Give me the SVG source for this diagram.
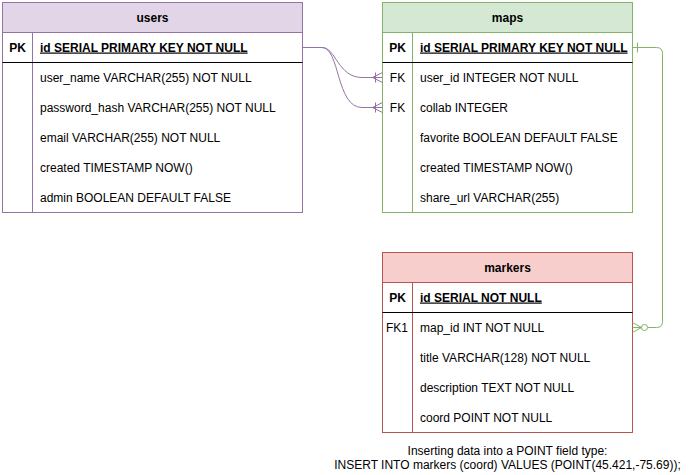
<svg xmlns="http://www.w3.org/2000/svg" width="690" height="475" viewBox="0 0 690 475">
  <style>
    text { font-family: "Liberation Sans", Arial, Helvetica, sans-serif; font-size: 12px; fill: #000; }
    .title { font-weight: bold; text-anchor: middle; }
    .key { font-weight: bold; text-anchor: middle; }
    .fk { text-anchor: middle; }
    .pkname { font-weight: bold; text-decoration: underline; }
    .sep { stroke: #000; stroke-width: 1; }
    .users { fill: #e1d5e7; stroke: #9673a6; }
    .maps { fill: #d5e8d4; stroke: #82b366; }
    .markers { fill: #f8cecc; stroke: #b85450; }
    .body { fill: #fff; }
    .wire { fill: none; stroke-width: 1; }
    .note { text-anchor: middle; }
  </style>

  <!-- users table -->
  <g id="users">
    <rect class="users" x="2.5" y="2.5" width="300" height="30"/>
    <rect class="users body" x="2.5" y="32.5" width="300" height="180"/>
    <line class="users" x1="32.5" y1="32.5" x2="32.5" y2="212.5"/>
    <line class="sep" x1="2.5" y1="62.5" x2="302.5" y2="62.5"/>
    <text class="title" x="152.5" y="21.5">users</text>
    <text class="key" x="17.5" y="51.5">PK</text>
    <text class="pkname" x="40" y="51.5">id SERIAL PRIMARY KEY NOT NULL</text>
    <text x="40" y="81.5">user_name VARCHAR(255) NOT NULL</text>
    <text x="40" y="111.5">password_hash VARCHAR(255) NOT NULL</text>
    <text x="40" y="141.5">email VARCHAR(255) NOT NULL</text>
    <text x="40" y="171.5">created TIMESTAMP NOW()</text>
    <text x="40" y="201.5">admin BOOLEAN DEFAULT FALSE</text>
  </g>

  <!-- maps table -->
  <g id="maps">
    <rect class="maps" x="382.5" y="2.5" width="250" height="30"/>
    <rect class="maps body" x="382.5" y="32.5" width="250" height="180"/>
    <line class="maps" x1="412.5" y1="32.5" x2="412.5" y2="212.5"/>
    <line class="sep" x1="382.5" y1="62.5" x2="632.5" y2="62.5"/>
    <text class="title" x="507.5" y="21.5">maps</text>
    <text class="key" x="397.5" y="51.5">PK</text>
    <text class="pkname" x="420" y="51.5">id SERIAL PRIMARY KEY NOT NULL</text>
    <text class="fk" x="397.5" y="81.5">FK</text>
    <text x="420" y="81.5">user_id INTEGER NOT NULL</text>
    <text class="fk" x="397.5" y="111.5">FK</text>
    <text x="420" y="111.5">collab INTEGER</text>
    <text x="420" y="141.5">favorite BOOLEAN DEFAULT FALSE</text>
    <text x="420" y="171.5">created TIMESTAMP NOW()</text>
    <text x="420" y="201.5">share_url VARCHAR(255)</text>
  </g>

  <!-- markers table -->
  <g id="markers">
    <rect class="markers" x="382.5" y="252.5" width="250" height="30"/>
    <rect class="markers body" x="382.5" y="282.5" width="250" height="150"/>
    <line class="markers" x1="412.5" y1="282.5" x2="412.5" y2="432.5"/>
    <line class="sep" x1="382.5" y1="312.5" x2="632.5" y2="312.5"/>
    <text class="title" x="507.5" y="271.5">markers</text>
    <text class="key" x="397.5" y="301.5">PK</text>
    <text class="pkname" x="420" y="301.5">id SERIAL NOT NULL</text>
    <text class="fk" x="397" y="331.5">FK1</text>
    <text x="420" y="331.5">map_id INT NOT NULL</text>
    <text x="420" y="361.5">title VARCHAR(128) NOT NULL</text>
    <text x="420" y="391.5">description TEXT NOT NULL</text>
    <text x="420" y="421.5">coord POINT NOT NULL</text>
  </g>

  <!-- relationships -->
  <g id="connectors">
    <!-- users.id -> maps.user_id (one to many) -->
    <g stroke="#9673a6" class="wire">
      <path d="M302.5 47.5 H322 C336 47.5 338 77.5 362 77.5 H382.5"/>
      <path d="M375.5 72.5 V82.5 M372.5 77.5 L382.5 72.5 M372.5 77.5 L382.5 82.5"/>
      <!-- users.id -> maps.collab (one to many) -->
      <path d="M302.5 47.5 H322 C340 47.5 336 107.5 362 107.5 H382.5"/>
      <path d="M375.5 102.5 V112.5 M372.5 107.5 L382.5 102.5 M372.5 107.5 L382.5 112.5"/>
    </g>
    <!-- maps.id -> markers.map_id (one to zero-or-many) -->
    <g stroke="#82b366" class="wire">
      <path d="M632.5 47.5 H656.5 Q662.5 47.5 662.5 53.5 V321.5 Q662.5 327.5 656.5 327.5 H647.5"/>
      <path d="M637.5 42.5 V52.5"/>
      <circle cx="644.5" cy="327.5" r="3" fill="#fff"/>
      <path d="M632.5 327.5 H641.5 M641.5 327.5 L632.5 322.5 M641.5 327.5 L632.5 332.5"/>
    </g>
  </g>

  <!-- note -->
  <g id="note">
    <text class="note" x="507.5" y="455">Inserting data into a POINT field type:</text>
    <text class="note" x="507.5" y="469">INSERT INTO markers (coord) VALUES (POINT(45.421,-75.69));</text>
  </g>
</svg>
